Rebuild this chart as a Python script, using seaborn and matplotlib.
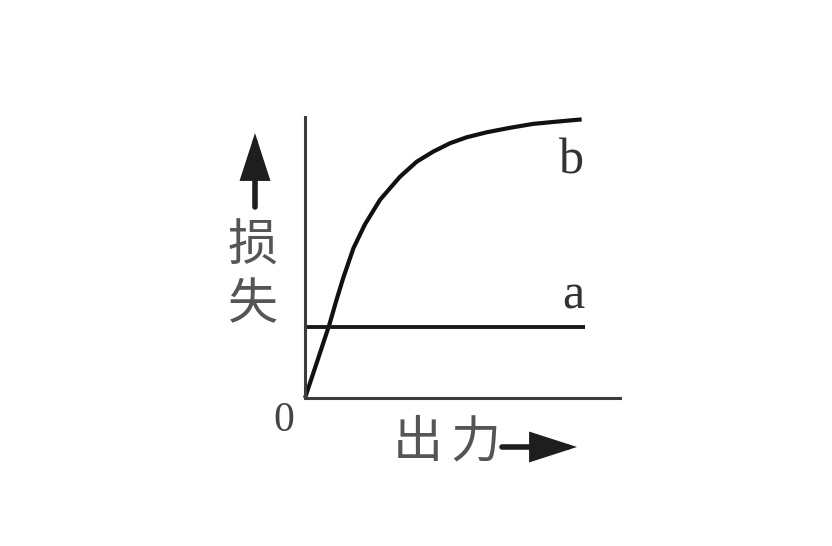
import numpy as np
import pandas as pd
import matplotlib
matplotlib.use("Agg")
import matplotlib.pyplot as plt
import seaborn as sns

# ---- data ----
output_b = [0.0, 0.040, 0.087, 0.113, 0.137, 0.173, 0.214, 0.268, 0.339, 0.399,
            0.458, 0.518, 0.577, 0.649, 0.732, 0.815, 0.899, 0.988]
loss_b   = [0.0, 0.120, 0.262, 0.352, 0.430, 0.535, 0.620, 0.708, 0.790, 0.844,
            0.880, 0.910, 0.931, 0.949, 0.965, 0.979, 0.987, 0.995]
output_a = [0.0, 1.0]
loss_a   = [0.254, 0.254]
curve_labels = ["a", "b"]
y_label_chars = ["损", "失"]
x_label_chars = ["出", "力"]
origin_label = "0"

sns.set_theme(style="white")
plt.rcParams["font.family"] = ["Noto Sans CJK SC", "DejaVu Sans"]

W, H = 832, 546
fig = plt.figure(figsize=(W / 100, H / 100), dpi=100)
fig.patch.set_facecolor("white")

# axes whose unit square maps to pixel box x 305..585, y(top) 398..118
ox, oy_top, unit = 305, 398, 280
oy = H - oy_top
ax = fig.add_axes([0, 0, 1, 1])
ax.set_xlim(-ox / unit, (W - ox) / unit)
ax.set_ylim(-oy / unit, (H - oy) / unit)
ax.set_facecolor("white")
ax.set_xticks([])
ax.set_yticks([])
for s in ["top", "right"]:
    ax.spines[s].set_visible(False)
for s in ["left", "bottom"]:
    ax.spines[s].set_color("#3c3c3c")
    ax.spines[s].set_linewidth(2.2)
ax.spines["left"].set_position(("data", 0))
ax.spines["bottom"].set_position(("data", 0))
ax.spines["left"].set_bounds(0, (oy_top - 117) / unit)
ax.spines["bottom"].set_bounds(0, (620 - ox) / unit)

df_b = pd.DataFrame({"output": output_b, "loss": loss_b})
df_a = pd.DataFrame({"output": output_a, "loss": loss_a})
sns.lineplot(data=df_b, x="output", y="loss", ax=ax, color="#111111", lw=3.0,
             estimator=None, sort=False)
sns.lineplot(data=df_a, x="output", y="loss", ax=ax, color="#1a1a1a", lw=2.8,
             estimator=None, sort=False)
for ln in ax.lines:
    ln.set_solid_joinstyle("round")
    ln.set_solid_capstyle("butt")
ax.set_xlabel("")
ax.set_ylabel("")

# curve labels
serif = ["Liberation Serif", "DejaVu Serif"]
ax.text(output_a[-1] - 0.04, loss_a[-1] + 0.11, curve_labels[0], family=serif,
        fontsize=36, color="#333333", ha="center", va="center")
ax.text(output_b[-1] - 0.035, loss_b[-1] - 0.15, curve_labels[1], family=serif,
        fontsize=36, color="#333333", ha="center", va="center")
ax.text(-0.075, -0.08, origin_label, family=serif, fontsize=30, color="#444444",
        ha="center", va="center")

# axis name characters (figure pixel positions)
cjk = ["Noto Sans CJK SC", "DejaVu Sans"]
def ptext(x, y_top, s, size):
    fig.text(x / W, (H - y_top) / H, s, family=cjk, fontsize=size, color="#555555",
             ha="center", va="center", fontweight="light")

ptext(253, 247, y_label_chars[0], 36)
ptext(253, 305, y_label_chars[1], 36)
ptext(418, 443, x_label_chars[0], 36)
ptext(475, 443, x_label_chars[1], 36)

# arrows
arrow_kw = dict(arrowstyle="-|>,head_length=1.3,head_width=0.42", lw=4.0,
                color="#1e1e1e", mutation_scale=20, shrinkA=0, shrinkB=0,
                joinstyle="miter")
ax.annotate("", xy=(255, H - 133), xytext=(255, H - 207), xycoords="figure pixels",
            textcoords="figure pixels", arrowprops=arrow_kw)
ax.annotate("", xy=(577, H - 447), xytext=(502, H - 447), xycoords="figure pixels",
            textcoords="figure pixels", arrowprops=arrow_kw)

fig.savefig("out.png", dpi=100, facecolor="white")
